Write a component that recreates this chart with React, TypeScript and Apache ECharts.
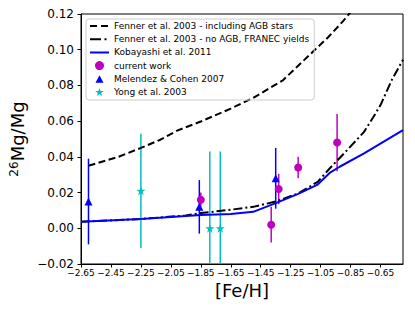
import React, { useEffect, useRef } from "react";
import * as echarts from "echarts";

const FONT = "DejaVu Sans";

// Tick labels
const xTicks = [-2.65, -2.45, -2.25, -2.05, -1.85, -1.65, -1.45, -1.25, -1.05, -0.85, -0.65];

// Fenner et al. 2003 - including AGB stars
const fennerAgbX = [-2.6, -2.4, -2.25, -2.12, -2.0, -1.85, -1.65, -1.5, -1.3, -1.2, -1.1, -1.0, -0.9, -0.85];
const fennerAgbY = [0.035, 0.040, 0.045, 0.0496, 0.055, 0.0598, 0.067, 0.073, 0.083, 0.091, 0.099, 0.107, 0.116, 0.121];

// Fenner et al. 2003 - no AGB, FRANEC yields
const fennerNoAgbX = [-2.65, -2.25, -1.95, -1.85, -1.65, -1.5, -1.35, -1.2, -1.07, -0.99, -0.875, -0.76, -0.7, -0.65, -0.575, -0.5];
const fennerNoAgbY = [0.0037, 0.0052, 0.0072, 0.0085, 0.0104, 0.012, 0.015, 0.0195, 0.026, 0.0335, 0.0436, 0.054, 0.062, 0.069, 0.083, 0.0944];

// Kobayashi et al. 2011
const kobX = [-2.65, -2.25, -1.85, -1.65, -1.5, -1.35, -1.2, -1.07, -0.99, -0.92, -0.76, -0.5];
const kobY = [0.0037, 0.0052, 0.0074, 0.008, 0.0092, 0.0141, 0.0193, 0.0245, 0.031, 0.0346, 0.042, 0.055];

// current work
const curX = [-1.85, -1.38, -1.33, -1.2, -0.94];
const curY = [0.016, 0.002, 0.022, 0.034, 0.048];
const curErr = [0.004, 0.01, 0.0085, 0.006, 0.016];

// Melendez & Cohen 2007
const melX = [-2.6, -1.86, -1.35];
const melY = [0.015, 0.012, 0.028];
const melErr = [0.024, 0.015, 0.017];

// Yong et al. 2003
const yongX = [-2.25, -1.79, -1.72];
const yongY = [0.021, 0.0, 0.0];
const yongErr = [0.032, 0.043, 0.043];

const NAMES = [
  "Fenner et al. 2003 - including AGB stars",
  "Fenner et al. 2003 - no AGB, FRANEC yields",
  "Kobayashi et al. 2011",
  "current work",
  "Melendez & Cohen 2007",
  "Yong et al. 2003",
];

const MAGENTA = "#bf00bf";
const BLUE = "#0000ff";
const CYAN = "#00bfbf";

const STAR =
  "path://M50,0 L61.8,35.1 L98.5,35.1 L68.7,56.8 L79.4,91 L50,70 L20.6,91 L31.3,56.8 L1.5,35.1 L38.2,35.1 Z";

// legend icons drawn in a 19 x 9 box (tiny corner marks fix the box)
const CORNERS = "M0,0 L0.01,0 L0,0.01 Z M19,9 L18.99,9 L19,8.99 Z ";
const ICON_DASH = "path://" + CORNERS + "M0,3.5 H7 V5.5 H0 Z M11,3.5 H18 V5.5 H11 Z";
const ICON_DASHDOT = "path://" + CORNERS + "M0,3.5 H11 V5.5 H0 Z M14.5,3.5 H16.5 V5.5 H14.5 Z";
const ICON_SOLID = "path://" + CORNERS + "M0,3.5 H19 V5.5 H0 Z";
const ICON_TRI = "path://" + CORNERS + "M5.5,8.5 L9.5,1 L13.5,8.5 Z";
const ICON_STAR =
  "path://" + CORNERS +
  "M9.5,0.3 L10.56,3.46 L13.87,3.46 L11.18,5.41 L12.15,8.49 L9.5,6.6 L6.85,8.49 L7.82,5.41 L5.13,3.46 L8.44,3.46 Z";

const zip2 = (a: number[], b: number[]) => a.map((v, i) => [v, b[i]]);
const zip3 = (a: number[], b: number[], c: number[]) => a.map((v, i) => [v, b[i], c[i]]);
const fmt = (v: number) => v.toFixed(2).replace("-", "\u2212");

function errSeries(name: string, data: number[][], color: string) {
  return {
    type: "custom",
    name,
    clip: true,
    encode: { x: 0, y: 1 },
    data,
    renderItem: (params: any, api: any) => {
      const x = api.value(0);
      const y = api.value(1);
      const e = api.value(2);
      const p1 = api.coord([x, y - e]);
      const p2 = api.coord([x, y + e]);
      return {
        type: "line",
        shape: { x1: p1[0], y1: p1[1], x2: p2[0], y2: p2[1] },
        style: { stroke: color, lineWidth: 1.5 },
      };
    },
  };
}

export default function App() {
  const ref = useRef<HTMLDivElement>(null);
  useEffect(() => {
    const chart = echarts.init(ref.current!, null, { renderer: "svg" });
    chart.setOption({
      animation: false,
      backgroundColor: "#ffffff",
      textStyle: { fontFamily: FONT },
      grid: {
        left: 81,
        top: 14,
        right: 12,
        bottom: 47,
        show: true,
        borderColor: "#000",
        borderWidth: 1,
        backgroundColor: "transparent",
        outerBoundsMode: "none",
        containLabel: false,
      },
      legend: {
        data: [
          { name: NAMES[0], icon: ICON_DASH },
          { name: NAMES[1], icon: ICON_DASHDOT },
          { name: NAMES[2], icon: ICON_SOLID },
          { name: NAMES[3], icon: "circle" },
          { name: NAMES[4], icon: ICON_TRI },
          { name: NAMES[5], icon: ICON_STAR },
        ],
        orient: "vertical",
        left: 86,
        top: 19,
        padding: [2, 5, 3, 4],
        itemWidth: 19,
        itemHeight: 9,
        itemGap: 3.2,
        symbolKeepAspect: false,
        textStyle: { fontSize: 9, color: "#000", fontFamily: FONT, lineHeight: 10 },
        borderColor: "#cccccc",
        borderWidth: 1,
        borderRadius: 3,
        backgroundColor: "transparent",
      },
      xAxis: {
        type: "value",
        min: -2.65,
        max: -0.5,
        axisLine: { show: true, onZero: false, lineStyle: { color: "#000", width: 1 } },
        axisTick: { show: true, length: 3.5, customValues: xTicks, lineStyle: { color: "#000" } },
        axisLabel: {
          customValues: xTicks,
          formatter: fmt,
          fontSize: 9,
          color: "#000",
          margin: 4,
          fontFamily: FONT,
        },
        splitLine: { show: false },
        name: "[Fe/H]",
        nameLocation: "middle",
        nameGap: 15,
        nameTextStyle: { fontSize: 18, color: "#000", fontFamily: FONT },
      },
      yAxis: {
        type: "value",
        min: -0.02,
        max: 0.12,
        interval: 0.02,
        axisLine: { show: true, onZero: false, lineStyle: { color: "#000", width: 1 } },
        axisTick: { show: true, length: 3.5, lineStyle: { color: "#000" } },
        axisLabel: { formatter: fmt, fontSize: 12, color: "#000", margin: 7, fontFamily: FONT },
        splitLine: { show: false },
        name: "{sup|26}{m|Mg/Mg}",
        nameLocation: "middle",
        nameRotate: 90,
        nameGap: 48,
        nameTextStyle: {
          color: "#000",
          fontFamily: FONT,
          rich: {
            sup: { fontSize: 12, verticalAlign: "top", fontFamily: FONT, color: "#000" },
            m: { fontSize: 18, fontFamily: FONT, color: "#000" },
          },
        },
      },
      series: [
        {
          type: "line",
          name: NAMES[0],
          data: zip2(fennerAgbX, fennerAgbY),
          symbol: "none",
          smooth: false,
          lineStyle: { color: "#000", width: 2, type: [7, 3.5] },
          itemStyle: { color: "#000" },
        },
        {
          type: "line",
          name: NAMES[1],
          data: zip2(fennerNoAgbX, fennerNoAgbY),
          symbol: "none",
          lineStyle: { color: "#000", width: 2, type: [9, 3, 2, 3] },
          itemStyle: { color: "#000" },
        },
        {
          type: "line",
          name: NAMES[2],
          data: zip2(kobX, kobY),
          symbol: "none",
          lineStyle: { color: BLUE, width: 2 },
          itemStyle: { color: BLUE },
        },
        errSeries("cur-err", zip3(curX, curY, curErr), MAGENTA),
        {
          type: "scatter",
          name: NAMES[3],
          data: zip2(curX, curY),
          symbol: "circle",
          symbolSize: 8,
          itemStyle: { color: MAGENTA, opacity: 1 },
        },
        errSeries("mel-err", zip3(melX, melY, melErr), BLUE),
        {
          type: "scatter",
          name: NAMES[4],
          data: zip2(melX, melY),
          symbol: "triangle",
          symbolSize: 8,
          itemStyle: { color: BLUE, opacity: 1 },
        },
        errSeries("yong-err", zip3(yongX, yongY, yongErr), CYAN),
        {
          type: "scatter",
          name: NAMES[5],
          data: zip2(yongX, yongY),
          symbol: STAR,
          symbolSize: 9,
          itemStyle: { color: CYAN, opacity: 1 },
        },
      ],
    });
    return () => chart.dispose();
  }, []);
  return (
    <div
      ref={ref}
      style={{ position: "fixed", left: 0, top: 0, width: 415, height: 311 }}
    />
  );
}
